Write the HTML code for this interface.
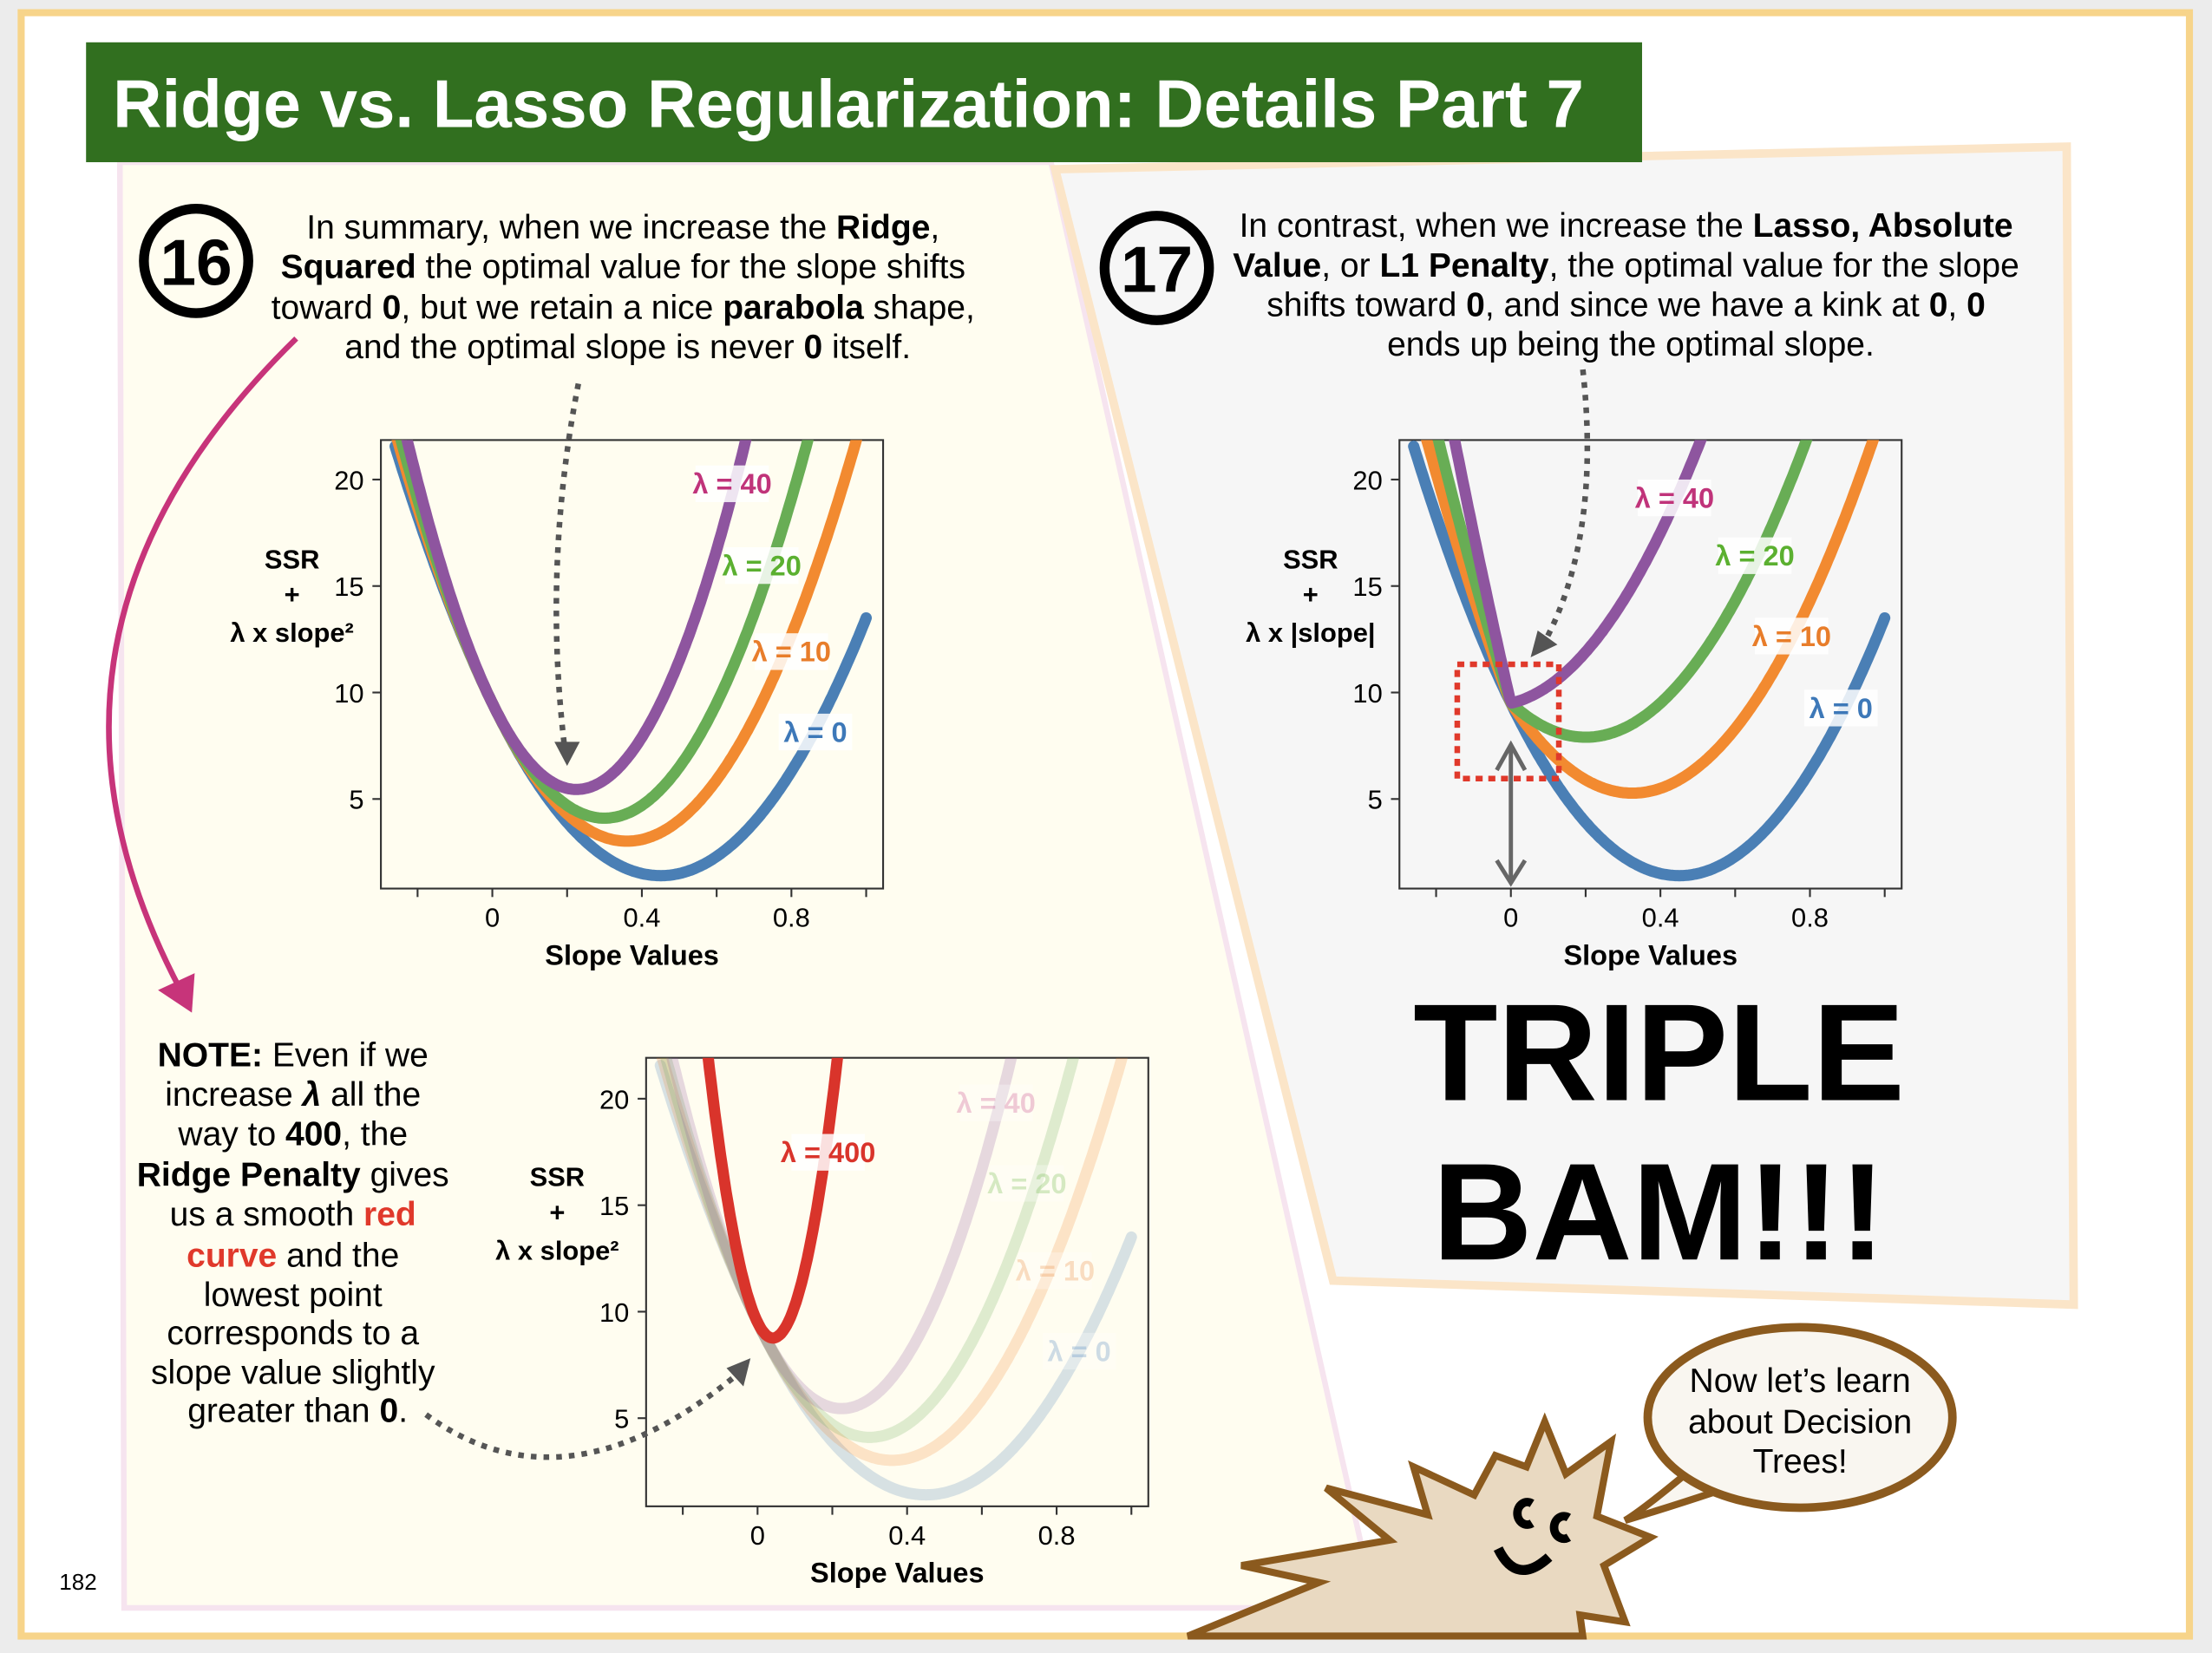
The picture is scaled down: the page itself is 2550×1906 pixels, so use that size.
<!DOCTYPE html>
<html><head><meta charset="utf-8">
<style>
html,body{margin:0;padding:0;background:#ececec;}
svg{display:block;font-family:"Liberation Sans",Arial,sans-serif;}
</style></head>
<body>
<svg id="page" width="2550" height="1906" viewBox="0 0 1568 1172" xmlns="http://www.w3.org/2000/svg">
<defs>
<clipPath id="c1"><rect x="270" y="312" width="356" height="318"/></clipPath>
<clipPath id="c2"><rect x="992" y="312" width="356" height="318"/></clipPath>
<clipPath id="c3"><rect x="458" y="750" width="356" height="318"/></clipPath>
</defs>
<rect x="0" y="0" width="1568" height="1172" fill="#ececec"/>
<rect x="15" y="9" width="1537" height="1151" fill="#ffffff" stroke="#f7d48a" stroke-width="5"/>
<polygon points="85,115 745,115 975,1140 88,1140" fill="#fffdf0" stroke="#f6e4ef" stroke-width="4"/>
<polygon points="748,120 1465,104 1470,925 945,908" fill="#f6f6f6" stroke="#fbe5c8" stroke-width="6"/>
<rect x="61" y="30" width="1103" height="85" fill="#316f1f"/>
<text x="80" y="90" font-size="48" font-weight="bold" fill="#fff">Ridge vs. Lasso Regularization: Details Part 7</text>

<g>
<circle cx="139" cy="185" r="37" fill="none" stroke="#000" stroke-width="7"/>
<text x="139" y="202" font-size="46" font-weight="bold" text-anchor="middle">16</text></g>
<text font-size="24" text-anchor="middle">
<tspan x="445" y="169">In summary, when we increase the <tspan font-weight="bold">Ridge</tspan>,</tspan>
<tspan x="445" y="197"><tspan font-weight="bold">Squared</tspan> the optimal value for the slope shifts</tspan>
<tspan x="445" y="226">toward <tspan font-weight="bold">0</tspan>, but we retain a nice <tspan font-weight="bold">parabola</tspan> shape,</tspan>
<tspan x="445" y="254">and the optimal slope is never <tspan font-weight="bold">0</tspan> itself.</tspan></text>

<g>
<circle cx="820" cy="190" r="37" fill="none" stroke="#000" stroke-width="7"/>
<text x="820" y="207" font-size="46" font-weight="bold" text-anchor="middle">17</text></g>
<text font-size="24" text-anchor="middle">
<tspan x="1156" y="168">In contrast, when we increase the <tspan font-weight="bold">Lasso, Absolute</tspan></tspan>
<tspan x="1156" y="196"><tspan font-weight="bold">Value</tspan>, or <tspan font-weight="bold">L1 Penalty</tspan>, the optimal value for the slope</tspan>
<tspan x="1156" y="224">shifts toward <tspan font-weight="bold">0</tspan>, and since we have a kink at <tspan font-weight="bold">0</tspan>, <tspan font-weight="bold">0</tspan></tspan>
<tspan x="1156" y="252">ends up being the optimal slope.</tspan></text>

<text font-size="24" text-anchor="middle">
<tspan x="211" y="756"><tspan font-weight="bold">NOTE:</tspan> Even if we</tspan>
<tspan x="211" y="784">increase <tspan font-weight="bold" font-style="italic">λ</tspan> all the</tspan>
<tspan x="211" y="812">way to <tspan font-weight="bold">400</tspan>, the</tspan>
<tspan x="211" y="841"><tspan font-weight="bold">Ridge Penalty</tspan> gives</tspan>
<tspan x="211" y="869">us a smooth <tspan font-weight="bold" fill="#e0392b">red</tspan></tspan>
<tspan x="211" y="898"><tspan font-weight="bold" fill="#e0392b">curve</tspan> and the</tspan>
<tspan x="211" y="926">lowest point</tspan>
<tspan x="211" y="953">corresponds to a</tspan>
<tspan x="211" y="981">slope value slightly</tspan>
<tspan x="211" y="1008">greater than <tspan font-weight="bold">0</tspan>.</tspan></text>

<text font-size="98" font-weight="bold" text-anchor="middle"><tspan x="1176" y="780">TRIPLE</tspan><tspan x="1176" y="893">BAM!!!</tspan></text>
<text x="42" y="1127" font-size="16">182</text>

<g id="charts"></g>

<path d="M210,240 Q-5,450 128,702" fill="none" stroke="#c7347a" stroke-width="4"/>
<polygon points="112,702 138,690 136,718" fill="#c7347a"/>
<path d="M410,272 Q385,400 400,528" fill="none" stroke="#555" stroke-width="4" stroke-dasharray="4,5"/>
<polygon points="393,526 411,526 402,543" fill="#555"/>
<path d="M1122,262 Q1135,380 1095,455" fill="none" stroke="#555" stroke-width="4" stroke-dasharray="4,5"/>
<polygon points="1085,466 1090,447 1104,457" fill="#555"/>
<path d="M302,1003 Q400,1075 522,975" fill="none" stroke="#555" stroke-width="4" stroke-dasharray="4,5"/>
<polygon points="532,963 515,970 527,983" fill="#555"/>
<rect x="1033" y="471" width="72" height="81" fill="none" stroke="#e0392b" stroke-width="4" stroke-dasharray="5,4"/>
<g stroke="#666" stroke-width="3" fill="none">
<line x1="1071" y1="530" x2="1071" y2="626"/>
<polyline points="1061,546 1071,528 1081,546"/><polyline points="1061,610 1071,626 1081,610"/></g>

<g>
<path d="M1195,1045 Q1165,1070 1152,1078 Q1185,1068 1215,1058" fill="#f9f6f0" stroke="#8b5a1e" stroke-width="5"/>
<ellipse cx="1276" cy="1005" rx="108" ry="64" fill="#f9f6f0" stroke="#8b5a1e" stroke-width="6"/>
<text font-size="24" text-anchor="middle"><tspan x="1276" y="987">Now let’s learn</tspan><tspan x="1276" y="1016">about Decision</tspan><tspan x="1276" y="1044">Trees!</tspan></text></g>
<g>
<polygon points="842,1160 935,1122 880,1110 985,1092 940,1055 1012,1074 1002,1040 1045,1060 1060,1032 1082,1040 1095,1008 1110,1045 1142,1022 1132,1075 1170,1090 1137,1110 1152,1150 1120,1145 1122,1160" fill="#e9d9c1" stroke="#8b5a1e" stroke-width="5" stroke-linejoin="miter"/>
<path d="M1086,1066 a7,8 0 1,0 0,14" fill="none" stroke="#000" stroke-width="6"/>
<path d="M1112,1076 a7,8 0 1,0 0,14" fill="none" stroke="#000" stroke-width="6"/>
<path d="M1062,1098 Q1075,1125 1098,1104" fill="none" stroke="#000" stroke-width="7"/></g>

<script>
const slopeTicks = [-0.2, 0, 0.2, 0.4, 0.6, 0.8, 1.0];
const slopeTickLabels = ["", "0", "", "0.4", "", "0.8", ""];
const ssrTicks = [5, 10, 15, 20];
const ssrTickLabels = ["5", "10", "15", "20"];
const lambdas = [0, 10, 20, 40];
const bigLambda = [400];
const baseCurvature = [40];
const optimalSlopeNoPenalty = [0.45];
const minSSR = [1.4];
const slopeRange = [-0.26, 1.0];

const NS = "http://www.w3.org/2000/svg";
const colors = {0:"#4a7fb5",10:"#f28a30",20:"#68ad55",40:"#8e559f",400:"#d9342b"};
const labelColors = {0:"#3d78b8",10:"#e87d2a",20:"#5bb030",40:"#c0337a",400:"#d9342b"};
function el(tag, attrs, parent){const e=document.createElementNS(NS,tag);for(const k in attrs)e.setAttribute(k,attrs[k]);parent.appendChild(e);return e;}
function ridge(s,l){const d=s-optimalSlopeNoPenalty[0];return baseCurvature[0]*d*d+minSSR[0]+l*s*s;}
function lasso(s,l){const d=s-optimalSlopeNoPenalty[0];return baseCurvature[0]*d*d+minSSR[0]+l*Math.abs(s);}

function chart(name, box, x0, y0, clip, fn, lams, labelPos, faded, ylab){
  const root=document.getElementById('charts');
  const g=el('g',{},root);
  
  
  const xs=s=>x0+s*265, ys=v=>y0-v*15.1;
  const area=el('rect',{x:box[0],y:box[1],width:box[2]-box[0],height:box[3]-box[1],fill:"none",stroke:"#333","stroke-width":1.3},g);
  
  
  slopeTicks.forEach((t,i)=>{
    const tk=el('line',{x1:xs(t),x2:xs(t),y1:box[3],y2:box[3]+6,stroke:"#333","stroke-width":1.3},g);
    
    
    if(slopeTickLabels[i]){const tl=el('text',{x:xs(t),y:box[3]+27,"font-size":19,"text-anchor":"middle"},g);tl.textContent=slopeTickLabels[i];
      
      }
  });
  ssrTicks.forEach((t,i)=>{
    const tk=el('line',{x1:box[0]-6,x2:box[0],y1:ys(t),y2:ys(t),stroke:"#333","stroke-width":1.3},g);
    
    
    const tl=el('text',{x:box[0]-12,y:ys(t)+7,"font-size":19,"text-anchor":"end"},g);tl.textContent=ssrTickLabels[i];
    
    
  });
  const xt=el('text',{x:(box[0]+box[2])/2,y:box[3]+54,"font-size":20,"font-weight":"bold","text-anchor":"middle"},g);xt.textContent="Slope Values";
  
  
  const yt=el('text',{"font-size":19,"font-weight":"bold","text-anchor":"middle"},g);
  
  
  const cx=box[0]-63;
  [["SSR",box[1]+91],["+",box[1]+116],[ylab,box[1]+143]].forEach(([t,y])=>{const ts=el('tspan',{x:cx,y:y},yt);ts.textContent=t;});
  const cg=el('g',{"clip-path":"url(#"+clip+")"},g);
  lams.forEach((l,i)=>{
    let d="";
    for(let k=0;k<=250;k++){const s=slopeRange[0]+(slopeRange[1]-slopeRange[0])*k/250;d+=(k?"L":"M")+xs(s).toFixed(1)+","+ys(fn(s,l)).toFixed(1);}
    const p=el('path',{d:d,fill:"none",stroke:colors[l],"stroke-width":8,"stroke-linecap":"round","stroke-linejoin":"round",opacity:(faded&&l!==400)?0.22:1},cg);
    
    
  });
  lams.forEach((l,i)=>{
    const [lx,ly]=labelPos[i];
    const r=el('rect',{x:lx-26,y:ly-13,width:52,height:26,fill:"#fff",opacity:(faded&&l!==400)?0.3:0.85},g);
    
    
    const t=el('text',{x:lx,y:ly+7,"font-size":20,"font-weight":"bold","text-anchor":"middle",fill:labelColors[l],opacity:(faded&&l!==400)?0.25:1},g);
    t.textContent="λ = "+l;
    
    
  });
}
chart('ridge-chart',[270,312,626,630],349,642,'c1',ridge,lambdas,[[578,519],[561,462],[540,401],[519,343]],false,"λ x slope²");
chart('lasso-chart',[992,312,1348,630],1071,642,'c2',lasso,lambdas,[[1305,502],[1270,451],[1244,394],[1187,353]],false,"λ x |slope|");
chart('ridge-400-chart',[458,750,814,1068],537,1081,'c3',ridge,lambdas.concat(bigLambda),[[765,958],[748,901],[728,839],[706,782],[587,817]],true,"λ x slope²");
</script>
</svg>
</body></html>
